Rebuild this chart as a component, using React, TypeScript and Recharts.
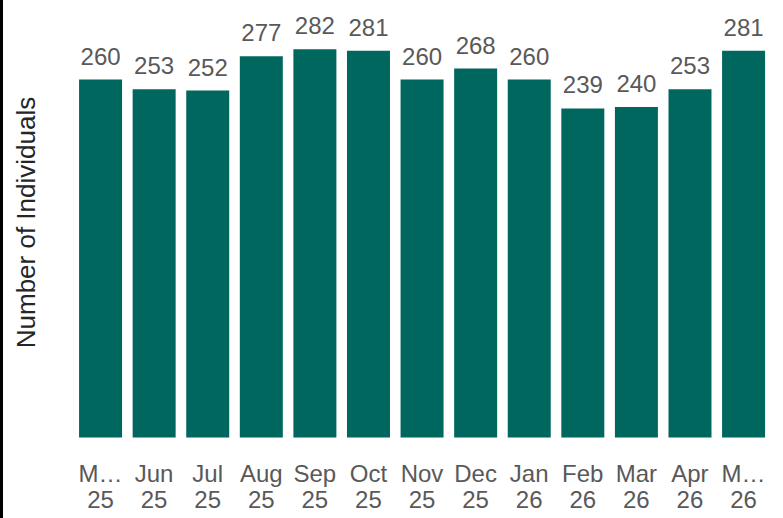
import { BarChart, Bar, XAxis, YAxis, LabelList } from 'recharts';

const months = ['M…', 'Jun', 'Jul', 'Aug', 'Sep', 'Oct', 'Nov', 'Dec', 'Jan', 'Feb', 'Mar', 'Apr', 'M…'];
const years = ['25', '25', '25', '25', '25', '25', '25', '25', '26', '26', '26', '26', '26'];
const individuals = [260, 253, 252, 277, 282, 281, 260, 268, 260, 239, 240, 253, 281];

const BAR_COLOR = '#00675F';
const TEXT_GREY = '#595959';
const FONT = '"Liberation Sans", Arial, sans-serif';

const chartData = months.map((m, i) => ({
  label: `${m} ${years[i]}`,
  value: individuals[i],
}));

function MonthTick(props: any) {
  const { x, y, payload } = props;
  const [month, year] = String(payload.value).split(' ');
  return (
    <text x={x} y={y} textAnchor="middle" fill={TEXT_GREY} fontSize={24} fontFamily={FONT}>
      <tspan x={x} dy={44.5}>{month}</tspan>
      <tspan x={x} dy={26}>{year}</tspan>
    </text>
  );
}

function AxisTitle() {
  const x = 35;
  const y = 222.5;
  return (
    <text
      x={x}
      y={y}
      transform={`rotate(-90, ${x}, ${y})`}
      textAnchor="middle"
      fill="#262626"
      fontSize={26}
      fontFamily={FONT}
    >
      Number of Individuals
    </text>
  );
}

export default function App() {
  return (
    <div
      style={{
        position: 'fixed',
        left: 0,
        top: 0,
        width: 783,
        height: 518,
        background: '#fff',
        overflow: 'hidden',
      }}
    >
      <div style={{ position: 'absolute', left: 0, top: 0, width: 3, height: 518, background: '#000' }} />
      <BarChart
        width={783}
        height={518}
        data={chartData}
        margin={{ top: 24.5, right: 12.7, left: 3, bottom: 10.5 }}
        barCategoryGap="10%"
        style={{ fontFamily: FONT }}
      >
        <XAxis
          dataKey="label"
          axisLine={false}
          tickLine={false}
          tickSize={0}
          tickMargin={0}
          height={70}
          interval={0}
          tick={<MonthTick />}
        />
        <YAxis
          domain={[0, 300]}
          width={70.7}
          tick={false}
          axisLine={false}
          tickLine={false}
          label={{ content: <AxisTitle /> }}
        />
        <Bar dataKey="value" fill={BAR_COLOR} isAnimationActive={false}>
          <LabelList
            dataKey="value"
            position="top"
            offset={15}
            fill={TEXT_GREY}
            fontSize={24}
            fontFamily={FONT}
          />
        </Bar>
      </BarChart>
    </div>
  );
}
